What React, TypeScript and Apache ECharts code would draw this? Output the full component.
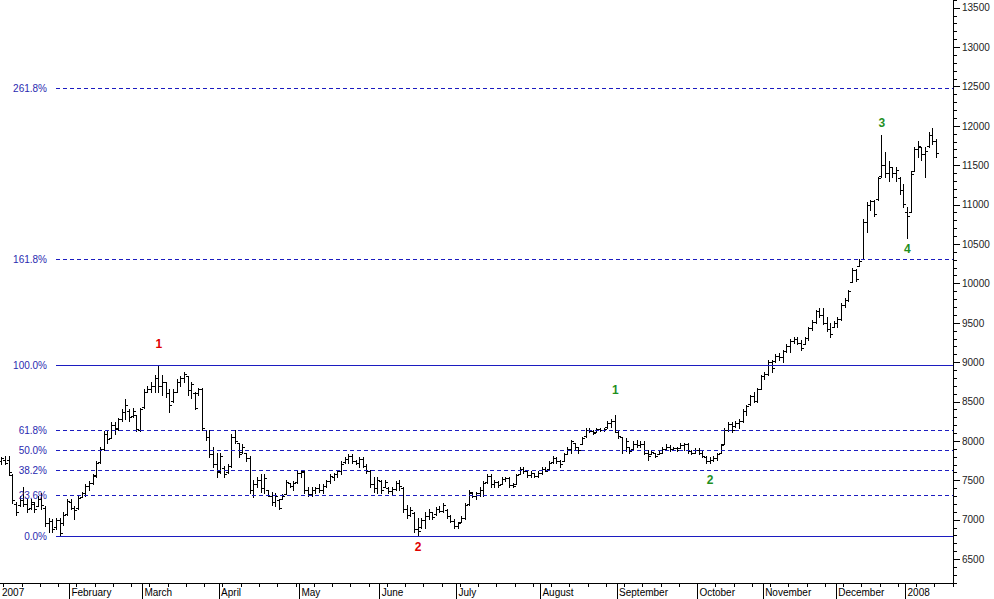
import React, { useEffect, useRef } from "react";
import * as echarts from "echarts";

// ---- calendar (trading days per month shown on the axis) ----
const monthLabels = ["2007", "February", "March", "April", "May", "June", "July", "August", "September", "October", "November", "December", "2008"];
const monthDayCounts = [19, 20, 21, 22, 22, 21, 23, 21, 22, 18, 20, 19, 13];

// ---- price axis ----
const priceMin = 6200;
const priceMax = 13600;
const minorStep = 100;
const majorStep = 500;
const labelMin = 6500;
const labelMax = 13500;

// ---- Fibonacci swing (wave 1) ----
const fibLow = 6796;
const fibHigh = 8965;
const fibRatios = [0, 0.236, 0.382, 0.5, 0.618, 1, 1.618, 2.618];

// ---- wave labels ----
const waveDayIndex = [43, 114, 168, 194, 241, 248];
const waveLabelPrice = [9234, 6657, 8650, 7507, 12039, 10439];
const waveText = ["1", "2", "1", "2", "3", "4"];
const waveColor = ["#e00000", "#e00000", "#1f8f1f", "#1f8f1f", "#1f8f1f", "#1f8f1f"];

// ---- daily bars: [open, high, low, close] ----
const ohlcBars = [
  [7740, 7799, 7698, 7780], [7760, 7812, 7700, 7720], [7760, 7800, 7570, 7600], [7560, 7571, 7215, 7250],
  [7200, 7228, 7063, 7100], [7180, 7292, 7165, 7250], [7250, 7406, 7165, 7200], [7200, 7254, 7089, 7130],
  [7140, 7254, 7127, 7220], [7200, 7228, 7101, 7130], [7170, 7292, 7165, 7260], [7260, 7342, 7127, 7180],
  [7150, 7165, 6911, 6950], [6950, 7025, 6847, 6980], [6980, 7000, 6847, 6880], [6900, 7025, 6873, 6990],
  [6990, 7025, 6796, 6830], [6950, 7089, 6936, 7060], [7070, 7254, 7063, 7230], [7220, 7254, 7127, 7150],
  [7140, 7165, 7000, 7120], [7140, 7292, 7127, 7270], [7290, 7355, 7279, 7340], [7340, 7444, 7292, 7420],
  [7420, 7482, 7380, 7460], [7460, 7571, 7444, 7550], [7560, 7736, 7533, 7720], [7730, 7926, 7723, 7900],
  [7900, 8117, 7888, 8080], [8080, 8117, 7977, 8020], [8040, 8231, 8040, 8200], [8200, 8231, 8079, 8150],
  [8160, 8294, 8142, 8270], [8270, 8396, 8244, 8370], [8370, 8535, 8269, 8450], [8380, 8396, 8244, 8300],
  [8310, 8421, 8307, 8380], [8320, 8332, 8117, 8150], [8140, 8421, 8117, 8400], [8430, 8650, 8421, 8620],
  [8620, 8688, 8612, 8660], [8650, 8739, 8612, 8700], [8700, 8840, 8624, 8800], [8800, 8965, 8612, 8700],
  [8700, 8840, 8586, 8750], [8740, 8740, 8550, 8600], [8600, 8650, 8370, 8450], [8510, 8650, 8497, 8620],
  [8620, 8777, 8612, 8740], [8740, 8815, 8688, 8790], [8790, 8878, 8751, 8850], [8820, 8827, 8586, 8640],
  [8640, 8751, 8548, 8720], [8600, 8624, 8396, 8420], [8600, 8675, 8586, 8660], [8650, 8675, 8142, 8160],
  [8130, 8142, 8015, 8050], [8050, 8142, 7787, 7830], [7830, 7926, 7660, 7700], [7700, 7850, 7533, 7600],
  [7610, 7850, 7596, 7800], [7650, 7685, 7545, 7580], [7600, 7698, 7596, 7680], [7680, 8079, 7672, 8050],
  [8050, 8142, 7977, 8000], [7970, 7977, 7787, 7830], [7860, 7952, 7850, 7920], [7840, 7850, 7736, 7780],
  [7780, 7800, 7342, 7380], [7380, 7507, 7279, 7450], [7450, 7533, 7406, 7500], [7500, 7571, 7355, 7400],
  [7400, 7571, 7342, 7530], [7370, 7380, 7292, 7300], [7300, 7355, 7190, 7220], [7220, 7342, 7165, 7300],
  [7250, 7254, 7127, 7150], [7260, 7317, 7254, 7300], [7320, 7507, 7317, 7480], [7460, 7469, 7406, 7420],
  [7420, 7482, 7380, 7460], [7470, 7609, 7469, 7590], [7590, 7634, 7545, 7610], [7600, 7609, 7342, 7380],
  [7380, 7418, 7292, 7320], [7320, 7406, 7292, 7380], [7370, 7418, 7342, 7400], [7400, 7444, 7355, 7380],
  [7380, 7444, 7342, 7430], [7430, 7507, 7406, 7490], [7490, 7571, 7469, 7550], [7540, 7596, 7507, 7580],
  [7580, 7634, 7533, 7610], [7610, 7736, 7571, 7710], [7730, 7787, 7723, 7770], [7770, 7825, 7723, 7800],
  [7800, 7825, 7723, 7740], [7740, 7761, 7698, 7720], [7720, 7787, 7672, 7770], [7770, 7787, 7660, 7680],
  [7680, 7698, 7596, 7620], [7620, 7634, 7418, 7450], [7450, 7545, 7355, 7400], [7400, 7533, 7342, 7500],
  [7490, 7507, 7342, 7370], [7410, 7507, 7406, 7480], [7400, 7406, 7342, 7360], [7360, 7406, 7317, 7390],
  [7390, 7482, 7380, 7460], [7460, 7507, 7380, 7420], [7400, 7406, 7101, 7130], [7130, 7190, 7025, 7060],
  [7060, 7152, 7038, 7120], [7080, 7089, 6847, 6880], [6880, 7025, 6796, 6850], [6900, 7025, 6898, 6990],
  [6990, 7089, 6898, 7050], [7050, 7127, 7000, 7100], [7090, 7101, 7000, 7030], [7070, 7152, 7063, 7130],
  [7130, 7165, 7089, 7110], [7110, 7215, 7101, 7190], [7120, 7127, 7025, 7040], [7040, 7063, 6962, 6980],
  [6980, 7000, 6898, 6920], [6920, 6974, 6898, 6950], [6970, 7038, 6962, 7020], [7020, 7215, 7000, 7190],
  [7200, 7380, 7190, 7350], [7340, 7355, 7279, 7300], [7300, 7355, 7254, 7330], [7330, 7406, 7292, 7380],
  [7380, 7482, 7292, 7460], [7470, 7571, 7469, 7550], [7550, 7571, 7418, 7450], [7450, 7507, 7418, 7480],
  [7480, 7482, 7418, 7440], [7450, 7533, 7444, 7510], [7510, 7545, 7482, 7530], [7530, 7533, 7418, 7440],
  [7440, 7469, 7406, 7420], [7450, 7571, 7444, 7560], [7575, 7660, 7571, 7640], [7640, 7672, 7596, 7620],
  [7620, 7634, 7533, 7560], [7560, 7609, 7533, 7590], [7590, 7596, 7533, 7550], [7550, 7609, 7545, 7590],
  [7590, 7660, 7571, 7640], [7640, 7672, 7609, 7620], [7640, 7736, 7634, 7720], [7725, 7800, 7723, 7780],
  [7780, 7787, 7723, 7740], [7740, 7761, 7672, 7700], [7740, 7850, 7736, 7830], [7830, 7914, 7825, 7890],
  [7890, 8015, 7850, 7990], [7970, 7977, 7888, 7920], [7920, 7926, 7850, 7880], [7960, 8053, 7952, 8040],
  [8055, 8167, 8053, 8140], [8140, 8167, 8104, 8120], [8120, 8142, 8079, 8100], [8110, 8167, 8104, 8150],
  [8150, 8167, 8117, 8130], [8130, 8167, 8117, 8150], [8170, 8244, 8167, 8220], [8220, 8269, 8180, 8250],
  [8250, 8320, 8104, 8130], [8110, 8117, 8040, 8060], [8050, 8053, 7850, 7880], [7880, 8040, 7863, 7990],
  [7920, 7926, 7850, 7870], [7890, 7990, 7888, 7960], [7960, 8015, 7926, 7940], [7940, 7990, 7914, 7960],
  [7960, 7990, 7825, 7850], [7850, 7887, 7761, 7800], [7830, 7888, 7825, 7860], [7850, 7850, 7787, 7810],
  [7830, 7863, 7825, 7850], [7850, 7914, 7850, 7890], [7890, 7952, 7888, 7920], [7920, 7939, 7875, 7900],
  [7900, 7926, 7888, 7910], [7910, 7926, 7863, 7880], [7905, 7965, 7901, 7940], [7940, 7977, 7888, 7960],
  [7960, 7977, 7850, 7870], [7870, 7888, 7825, 7840], [7850, 7901, 7850, 7880], [7880, 7901, 7825, 7850],
  [7850, 7888, 7787, 7800], [7790, 7800, 7723, 7740], [7740, 7787, 7723, 7760], [7760, 7800, 7736, 7780],
  [7780, 7850, 7761, 7830], [7850, 7952, 7850, 7940], [7955, 8167, 7952, 8140], [8140, 8231, 8117, 8210],
  [8210, 8231, 8104, 8130], [8185, 8244, 8180, 8220], [8220, 8269, 8167, 8250], [8250, 8396, 8231, 8380],
  [8380, 8459, 8332, 8440], [8460, 8586, 8459, 8570], [8570, 8612, 8485, 8510], [8510, 8675, 8485, 8650],
  [8660, 8840, 8650, 8820], [8820, 8878, 8777, 8850], [8850, 9030, 8840, 9000], [9000, 9030, 8878, 8920],
  [9010, 9094, 9005, 9080], [9080, 9119, 9030, 9060], [9060, 9157, 9005, 9140], [9140, 9222, 9120, 9200],
  [9200, 9297, 9132, 9270], [9270, 9310, 9246, 9290], [9290, 9322, 9221, 9240], [9240, 9284, 9157, 9180],
  [9230, 9322, 9221, 9300], [9300, 9449, 9284, 9430], [9430, 9538, 9411, 9510], [9510, 9665, 9500, 9640],
  [9640, 9690, 9564, 9600], [9600, 9690, 9475, 9500], [9500, 9576, 9386, 9420], [9420, 9500, 9310, 9350],
  [9440, 9513, 9437, 9490], [9490, 9564, 9449, 9540], [9540, 9754, 9538, 9720], [9720, 9817, 9703, 9790],
  [9790, 9919, 9767, 9900], [10020, 10198, 10008, 10170], [10170, 10173, 10021, 10050], [10220, 10300, 10211, 10280],
  [10300, 10808, 10300, 10780], [10780, 11036, 10643, 10990], [10990, 11061, 10934, 11040], [11040, 11061, 10846, 10880],
  [11070, 11353, 11061, 11330], [11360, 11886, 11353, 11500], [11500, 11658, 11341, 11400], [11400, 11544, 11290, 11480],
  [11470, 11480, 11341, 11400], [11400, 11468, 11290, 11440], [11330, 11341, 11125, 11180], [11180, 11252, 10960, 11000],
  [10900, 10960, 10579, 10850], [10900, 11417, 10897, 11390], [11420, 11734, 11417, 11700], [11700, 11798, 11607, 11740],
  [11730, 11734, 11569, 11640], [11640, 11734, 11341, 11680], [11740, 11912, 11734, 11880], [11880, 11975, 11760, 11800],
  [11800, 11823, 11607, 11650],
];

const FONT = '"Liberation Sans", Arial, Helvetica, sans-serif';
const FIB_LINE = "#1c1cc0";
const FIB_TEXT = "#2a2ab0";

const totalDays = monthDayCounts.reduce((a, b) => a + b, 0);
const monthStart: number[] = [];
{
  let acc = 0;
  monthDayCounts.forEach((c) => {
    monthStart.push(acc);
    acc += c;
  });
}
const dayCategories = Array.from({ length: totalDays }, (_, i) => String(i));
const boundaryCategories = Array.from({ length: totalDays + 1 }, (_, j) => {
  const m = monthStart.indexOf(j);
  return m >= 0 ? monthLabels[m] : "b" + j;
});

export default function App() {
  const ref = useRef<HTMLDivElement>(null);

  useEffect(() => {
    if (!ref.current) return;
    const chart = echarts.init(ref.current, null, { renderer: "svg" });

    const H = 599;
    const gridLeft = 0;
    const gridRight = 41;
    const gridTop = 0;
    const gridBottom = 16;
    const plotH = H - gridTop - gridBottom;
    const pxPerUnit = plotH / (priceMax - priceMin);
    const majorMin = 5500;
    const majorMax = 14000;
    const g2Top = gridTop - (majorMax - priceMax) * pxPerUnit;
    const g2Height = (majorMax - majorMin) * pxPerUnit;

    const option: any = {
      animation: false,
      backgroundColor: "#ffffff",
      grid: [
        { left: gridLeft, right: gridRight, top: gridTop, bottom: gridBottom, containLabel: false, outerBoundsMode: "none" },
        { left: gridLeft, right: gridRight, top: g2Top, height: g2Height, containLabel: false, outerBoundsMode: "none" },
      ],
      xAxis: [
        {
          gridIndex: 0,
          type: "category",
          data: dayCategories,
          boundaryGap: true,
          position: "bottom",
          axisLine: { show: true, onZero: false, lineStyle: { color: "#000", width: 1 } },
          axisTick: { show: false },
          axisLabel: { show: false },
          splitLine: { show: false },
          splitArea: { show: false },
        },
        {
          gridIndex: 0,
          type: "category",
          data: boundaryCategories,
          boundaryGap: false,
          position: "bottom",
          axisLine: { show: false, onZero: false },
          axisTick: {
            show: true,
            length: 16,
            interval: (i: number) => i > 0 && monthStart.includes(i),
            lineStyle: { color: "#000", width: 1 },
          },
          axisLabel: {
            show: true,
            interval: (i: number) => monthStart.includes(i),
            align: "left",
            margin: 4,
            padding: [0, 0, 0, 2],
            color: "#000",
            fontSize: 10,
            fontFamily: FONT,
          },
          splitLine: { show: false },
          splitArea: { show: false },
        },
        {
          gridIndex: 0,
          type: "category",
          data: boundaryCategories,
          boundaryGap: false,
          position: "bottom",
          axisLine: { show: false, onZero: false },
          axisTick: {
            show: true,
            length: 4,
            interval: (i: number) => i % 5 === 1,
            lineStyle: { color: "#000", width: 1 },
          },
          axisLabel: { show: false },
          splitLine: { show: false },
          splitArea: { show: false },
        },
        { gridIndex: 1, type: "value", show: false, min: 0, max: 1 },
      ],
      yAxis: [
        {
          gridIndex: 0,
          type: "value",
          min: priceMin,
          max: priceMax,
          interval: minorStep,
          position: "right",
          axisLine: { show: true, onZero: false, lineStyle: { color: "#000", width: 1 } },
          axisTick: { show: true, length: 4, lineStyle: { color: "#000", width: 1 } },
          axisLabel: { show: false },
          splitLine: { show: false },
          splitArea: { show: false },
        },
        {
          gridIndex: 1,
          type: "value",
          min: majorMin,
          max: majorMax,
          interval: majorStep,
          position: "right",
          axisLine: { show: false, onZero: false },
          axisTick: { show: true, length: 7, lineStyle: { color: "#000", width: 1 } },
          axisLabel: {
            show: true,
            margin: 9,
            color: "#222",
            fontSize: 10,
            fontFamily: FONT,
            formatter: (v: number) => (v >= labelMin && v <= labelMax ? String(v) : ""),
          },
          splitLine: { show: false },
          splitArea: { show: false },
        },
      ],
      series: [
        {
          type: "custom",
          name: "ohlc",
          xAxisIndex: 0,
          yAxisIndex: 0,
          silent: true,
          z: 2,
          dimensions: ["day", "open", "high", "low", "close"],
          encode: { x: "day", y: ["open", "high", "low", "close"] },
          data: ohlcBars.map((b, i) => [i, b[0], b[1], b[2], b[3]]),
          renderItem: (params: any, api: any) => {
            const d = api.value(0);
            const pO = api.coord([d, api.value(1)]);
            const pH = api.coord([d, api.value(2)]);
            const pL = api.coord([d, api.value(3)]);
            const pC = api.coord([d, api.value(4)]);
            const x = Math.floor(pH[0]) + 0.5;
            const yO = Math.floor(pO[1]) + 0.5;
            const yC = Math.floor(pC[1]) + 0.5;
            const st = { stroke: "#000", lineWidth: 1 };
            return {
              type: "group",
              children: [
                { type: "line", shape: { x1: x, y1: Math.floor(pH[1]), x2: x, y2: Math.floor(pL[1]) + 1 }, style: st },
                { type: "line", shape: { x1: x - 2.5, y1: yO, x2: x, y2: yO }, style: st },
                { type: "line", shape: { x1: x, y1: yC, x2: x + 2.5, y2: yC }, style: st },
              ],
            };
          },
        },
        {
          type: "custom",
          name: "fib",
          xAxisIndex: 0,
          yAxisIndex: 0,
          silent: true,
          clip: false,
          z: 10,
          data: fibRatios.map((r) => [0, fibLow + r * (fibHigh - fibLow)]),
          renderItem: (params: any, api: any) => {
            const cs = params.coordSys;
            const yy = Math.floor(api.coord([0, api.value(1)])[1]);
            const r = fibRatios[params.dataIndex];
            const solid = r === 0 || r === 1;
            const x0 = cs.x + 56;
            const x1 = cs.x + cs.width;
            const children: any[] = [];
            if (solid) {
              children.push({ type: "rect", shape: { x: x0, y: yy, width: x1 - x0, height: 1 }, style: { fill: FIB_LINE } });
            } else {
              for (let x = x0; x < x1; x += 7) {
                children.push({ type: "rect", shape: { x, y: yy, width: Math.min(4, x1 - x), height: 1 }, style: { fill: FIB_LINE } });
              }
            }
            children.push({
              type: "text",
              x: cs.x + 47,
              y: yy + 0.5,
              style: {
                text: (r * 100).toFixed(1) + "%",
                align: "right",
                verticalAlign: "middle",
                fill: FIB_TEXT,
                font: `10px ${FONT}`,
              },
            });
            return { type: "group", children };
          },
        },
        {
          type: "custom",
          name: "waves",
          xAxisIndex: 0,
          yAxisIndex: 0,
          silent: true,
          z: 11,
          data: waveDayIndex.map((d, i) => [d, waveLabelPrice[i]]),
          renderItem: (params: any, api: any) => {
            const p = api.coord([api.value(0), api.value(1)]);
            const k = params.dataIndex;
            return {
              type: "text",
              x: p[0],
              y: p[1],
              style: {
                text: waveText[k],
                align: "center",
                verticalAlign: "middle",
                fill: waveColor[k],
                font: `bold 12px ${FONT}`,
              },
            };
          },
        },
      ],
    };

    chart.setOption(option);
    return () => {
      chart.dispose();
    };
  }, []);

  return (
    <div
      ref={ref}
      style={{ position: "absolute", left: 0, top: 0, width: 994, height: 599, background: "#fff" }}
    />
  );
}
